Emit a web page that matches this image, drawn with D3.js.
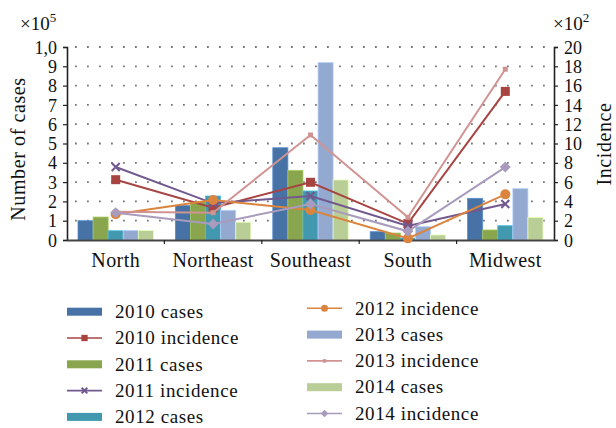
<!DOCTYPE html>
<html><head><meta charset="utf-8">
<script src="https://cdn.jsdelivr.net/npm/d3@7"></script>
<style>
html,body{margin:0;padding:0;background:#fff;}
text{font-family:"Liberation Serif","Times New Roman",serif;fill:#111;}
</style></head>
<body><svg id="c" width="616" height="428"></svg>
<script>
const categories = ["North","Northeast","Southeast","South","Midwest"];
const cases2010 = [1.0, 1.78, 4.78, 0.43, 2.16];
const cases2011 = [1.19, 1.98, 3.61, 0.36, 0.52];
const cases2012 = [0.48, 2.28, 2.54, 0.1, 0.74];
const cases2013 = [0.49, 1.54, 9.19, 0.69, 2.66];
const cases2014 = [0.49, 0.92, 3.11, 0.26, 1.16];
const inc2010 = [6.25, 3.35, 5.98, 1.7, 15.4];
const inc2011 = [7.56, 3.8, 4.56, 1.45, 3.73];
const inc2012 = [2.66, 4.15, 3.1, 0.17, 4.73];
const inc2013 = [2.94, 2.83, 10.88, 2.35, 17.7];
const inc2014 = [2.83, 1.66, 3.73, 0.9, 7.56];
const leftTicks = [0,1,2,3,4,5,6,7,8,9,10];
const leftTickLabels = ["0","1","2","3","4","5","6","7","8","9","1,0"];
const rightTicks = [0,2,4,6,8,10,12,14,16,18,20];

const barSeries = [
  {name:"2010 cases", values:cases2010, color:"#4672a6"},
  {name:"2011 cases", values:cases2011, color:"#89a54e"},
  {name:"2012 cases", values:cases2012, color:"#4198af"},
  {name:"2013 cases", values:cases2013, color:"#93a9cf"},
  {name:"2014 cases", values:cases2014, color:"#b9cd96"}
];
const lineSeries = [
  {name:"2010 incidence", values:inc2010, color:"#a74442", marker:"square"},
  {name:"2011 incidence", values:inc2011, color:"#71588f", marker:"x"},
  {name:"2012 incidence", values:inc2012, color:"#db843d", marker:"circle"},
  {name:"2013 incidence", values:inc2013, color:"#d19392", marker:"small"},
  {name:"2014 incidence", values:inc2014, color:"#a99bbd", marker:"diamond"}
];

const svg = d3.select("#c");
const L = 67, R = 554, T = 47, B = 240;
const x = d3.scaleBand().domain(categories).range([L, R]).padding(0);
const x1 = d3.scaleBand().domain(barSeries.map(d=>d.name)).range([0, x.bandwidth()]).paddingInner(0).paddingOuter(0.73);
const yL = d3.scaleLinear().domain([0,10]).range([B,T]);
const yR = d3.scaleLinear().domain([0,20]).range([B,T]);

// grid
svg.append("g").selectAll("line").data(leftTicks.slice(1)).join("line")
  .attr("x1", L+8).attr("x2", R).attr("y1", d=>yL(d)).attr("y2", d=>yL(d))
  .attr("stroke", "#777").attr("stroke-width", 1.8).attr("stroke-dasharray", "1.8,10.2");

// bars
barSeries.forEach(s=>{
  svg.append("g").selectAll("rect").data(s.values).join("rect")
    .attr("x", (d,i)=>x(categories[i]) + x1(s.name))
    .attr("width", x1.bandwidth())
    .attr("y", d=>yL(d)).attr("height", d=>B - yL(d))
    .attr("fill", s.color)
    .attr("stroke", d3.color(s.color).brighter(0.6)).attr("stroke-width", 0.8);
});

// axes
const fmtL = d => leftTickLabels[leftTicks.indexOf(d)];
const axL = svg.append("g").attr("transform", `translate(${L},0)`)
  .call(d3.axisLeft(yL).tickValues(leftTicks).tickFormat(fmtL).tickSize(4).tickPadding(6));
const axR = svg.append("g").attr("transform", `translate(${R},0)`)
  .call(d3.axisRight(yR).tickValues(rightTicks).tickFormat(d3.format("d")).tickSize(4).tickPadding(6));
[axL, axR].forEach(a=>{
  a.select(".domain").attr("stroke","#222").attr("stroke-width",1.6);
  a.selectAll(".tick line").attr("stroke","#222").attr("stroke-width",1.2);
  a.selectAll(".tick text").attr("font-size",18).attr("font-family","Liberation Serif").attr("fill","#111").attr("dy","0.34em");
});
const axX = svg.append("g").attr("transform", `translate(0,${B})`)
  .call(d3.axisBottom(x).tickSize(0).tickPadding(12));
axX.select(".domain").attr("stroke","#444").attr("stroke-width",2.2);
axX.selectAll(".tick text").attr("font-size",20).attr("font-family","Liberation Serif").attr("fill","#111").attr("letter-spacing","0.4px").attr("dy","0.75em");
// category boundary ticks
svg.append("g").selectAll("line").data(categories.slice(1)).join("line")
  .attr("x1", d=>x(d)).attr("x2", d=>x(d)).attr("y1", B).attr("y2", B+4)
  .attr("stroke","#222").attr("stroke-width",1.2);

// lines + markers
const xc = i => x(categories[i]) + x.bandwidth()/2;
function marker(g, type, color, px, py, scale){
  const k = scale||1;
  if(type==="square") g.append("rect").attr("x",px-4.5*k).attr("y",py-4.5*k).attr("width",9*k).attr("height",9*k).attr("fill",color);
  else if(type==="circle") g.append("circle").attr("cx",px).attr("cy",py).attr("r",5*k).attr("fill",color);
  else if(type==="small") g.append("rect").attr("x",px-2.5*k).attr("y",py-2.5*k).attr("width",5*k).attr("height",5*k).attr("fill",color);
  else if(type==="diamond") g.append("path").attr("d",`M${px},${py-5.5*k}L${px+5.5*k},${py}L${px},${py+5.5*k}L${px-5.5*k},${py}Z`).attr("fill",color);
  else if(type==="x") g.append("path").attr("d",`M${px-4*k},${py-4*k}L${px+4*k},${py+4*k}M${px-4*k},${py+4*k}L${px+4*k},${py-4*k}`).attr("stroke",color).attr("stroke-width",2);
}
lineSeries.forEach(s=>{
  const g = svg.append("g");
  g.append("path").datum(s.values)
    .attr("d", d3.line().x((d,i)=>xc(i)).y(d=>yR(d)))
    .attr("fill","none").attr("stroke", s.color).attr("stroke-width", 2);
  s.values.forEach((v,i)=>marker(g, s.marker, s.color, xc(i), yR(v)));
});

// axis titles
svg.append("text").attr("transform","translate(25,149) rotate(-90)").attr("text-anchor","middle")
  .attr("font-size",20).attr("letter-spacing","0.6px").text("Number of cases");
svg.append("text").attr("transform","translate(611,144) rotate(-90)").attr("text-anchor","middle")
  .attr("font-size",20).attr("letter-spacing","0.6px").text("Incidence");
// multipliers
const m1 = svg.append("text").attr("x",20).attr("y",30).attr("font-size",19);
m1.append("tspan").text("×10");
m1.append("tspan").attr("font-size",13).attr("dy",-8).text("5");
const m2 = svg.append("text").attr("x",553).attr("y",30).attr("font-size",19);
m2.append("tspan").text("×10");
m2.append("tspan").attr("font-size",13).attr("dy",-8).text("2");

// legend
const legendItems = [
  {...barSeries[0], type:"bar"}, {...lineSeries[0], type:"line"},
  {...barSeries[1], type:"bar"}, {...lineSeries[1], type:"line"},
  {...barSeries[2], type:"bar"}, {...lineSeries[2], type:"line"},
  {...barSeries[3], type:"bar"}, {...lineSeries[3], type:"line"},
  {...barSeries[4], type:"bar"}, {...lineSeries[4], type:"line"}
];
const lg = svg.append("g");
legendItems.forEach((it, idx)=>{
  const col = idx < 5 ? 0 : 1;
  const row = idx < 5 ? idx : idx - 5;
  const sx = col===0 ? 67 : 307;
  const cy = (col===0 ? 311.7 : 308.3) + row*26.3;
  const g = lg.append("g");
  if(it.type==="bar"){
    g.append("rect").attr("x",sx).attr("y",cy-4).attr("width",35).attr("height",8).attr("fill",it.color);
  } else {
    g.append("line").attr("x1",sx).attr("x2",sx+35).attr("y1",cy).attr("y2",cy).attr("stroke",it.color).attr("stroke-width",1.6);
    marker(g, it.marker, it.color, sx+17.5, cy, 0.7);
  }
  g.append("text").attr("x", sx+48).attr("y", cy).attr("dy","0.33em").attr("font-size",19).attr("letter-spacing","0.6px").text(it.name);
});
</script></body></html>
